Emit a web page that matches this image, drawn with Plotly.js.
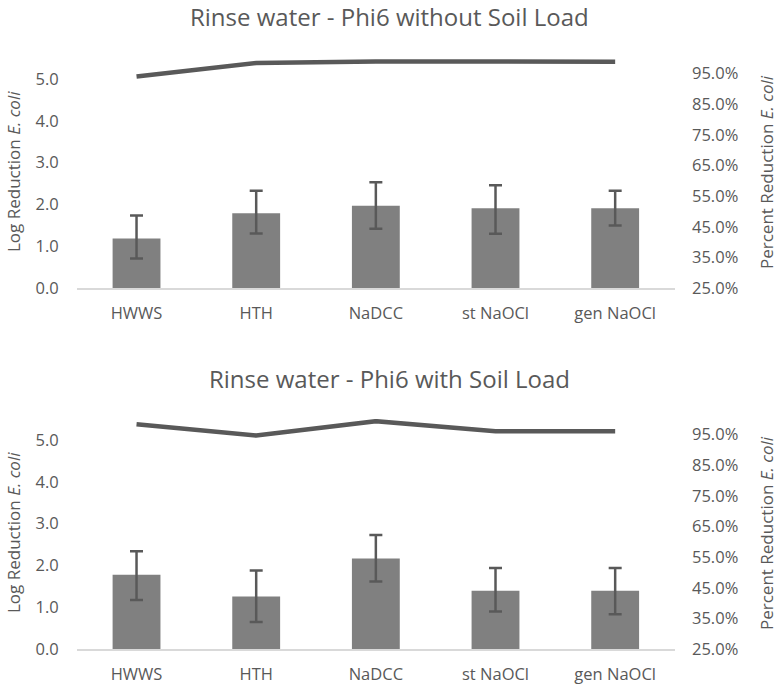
<!DOCTYPE html>
<html>
<head>
<meta charset="utf-8">
<script src="https://cdn.plot.ly/plotly-3.0.1.min.js"></script>
<style>
html,body{margin:0;padding:0;background:#fff;}
#chart{width:778px;height:685px;}
</style>
</head>
<body>
<div id="chart"></div>
<script>
// Categories
const categories = ["HWWS", "HTH", "NaDCC", "st NaOCl", "gen NaOCl"];

// Top chart: without soil load
const logRedNoSoil = [1.19, 1.79, 1.97, 1.91, 1.91];
const errPlusNoSoil = [0.55, 0.54, 0.56, 0.55, 0.42];
const errMinusNoSoil = [0.48, 0.48, 0.55, 0.61, 0.41];
const pctRedNoSoil = [0.940, 0.984, 0.989, 0.988, 0.988];

// Bottom chart: with soil load
const logRedSoil = [1.78, 1.26, 2.17, 1.40, 1.40];
const errPlusSoil = [0.56, 0.62, 0.56, 0.54, 0.54];
const errMinusSoil = [0.60, 0.61, 0.55, 0.50, 0.56];
const pctRedSoil = [0.983, 0.946, 0.993, 0.960, 0.960];

// Axis ticks
const leftTicks = [0, 1, 2, 3, 4, 5];
const rightTicks = [0.25, 0.35, 0.45, 0.55, 0.65, 0.75, 0.85, 0.95];

const titles = ["Rinse water - Phi6 without Soil Load", "Rinse water - Phi6 with Soil Load"];

const FONT = "Open Sans, Noto Sans, sans-serif";
const TXT = "#595959";
const BAR = "#808080";
const LINE = "#595959";
const TICK = 16.5;

function barTrace(y, ep, em, xa, ya) {
  return {
    type: "bar", x: categories, y: y, xaxis: xa, yaxis: ya,
    marker: {color: BAR}, width: 0.4,
    error_y: {type: "data", symmetric: false, array: ep, arrayminus: em,
              color: "#595959", thickness: 2.5, width: 6.5},
    hoverinfo: "skip", showlegend: false
  };
}
function lineTrace(y, xa, ya) {
  return {
    type: "scatter", mode: "lines", x: categories, y: y, xaxis: xa, yaxis: ya,
    line: {color: LINE, width: 4.5, shape: "linear"},
    hoverinfo: "skip", showlegend: false, cliponaxis: false
  };
}

const data = [
  barTrace(logRedNoSoil, errPlusNoSoil, errMinusNoSoil, "x", "y"),
  lineTrace(pctRedNoSoil, "x", "y2"),
  barTrace(logRedSoil, errPlusSoil, errMinusSoil, "x2", "y3"),
  lineTrace(pctRedSoil, "x2", "y4")
];

const W = 778, H = 685;
const xDom = [76.7 / W, 675 / W];
const topDom = [1 - 288.3 / H, 1 - 58 / H];
const botDom = [1 - 649.3 / H, 1 - 419 / H];

function xAxis(anchor) {
  return {
    domain: xDom, anchor: anchor, type: "category",
    showline: true, linecolor: "#d9d9d9", linewidth: 2,
    ticks: "", showgrid: false, zeroline: false,
    tickfont: {family: FONT, size: TICK, color: TXT},
    ticklabelstandoff: 9
  };
}
function leftAxis(dom, anchor) {
  return {
    domain: dom, anchor: anchor, range: [0, 5.5],
    tickvals: leftTicks, ticktext: leftTicks.map(v => v.toFixed(1)),
    showgrid: false, zeroline: false, showline: false, ticks: "",
    tickfont: {family: FONT, size: TICK, color: TXT},
    ticklabelstandoff: 17
  };
}
function rightAxis(overlay, anchor) {
  return {
    overlaying: overlay, anchor: anchor, side: "right", range: [0.25, 1.0],
    tickvals: rightTicks, ticktext: rightTicks.map(v => (v * 100).toFixed(1) + "%"),
    showgrid: false, zeroline: false, showline: false, ticks: "",
    tickfont: {family: FONT, size: TICK, color: TXT},
    ticklabelstandoff: 16
  };
}

const ann = [];
function addTitles(i, yTop, yMid) {
  ann.push({text: titles[i], xref: "paper", yref: "paper", x: 0.5, y: 1 - yTop / H,
            xanchor: "center", yanchor: "middle", showarrow: false,
            font: {family: FONT, size: 24, color: TXT}});
  ann.push({text: "Log Reduction <i>E. coli</i>", xref: "paper", yref: "paper",
            x: 13 / W, y: 1 - yMid / H, xanchor: "center", yanchor: "middle",
            textangle: -90, showarrow: false, font: {family: FONT, size: 17, color: TXT}});
  ann.push({text: "Percent Reduction <i>E. coli</i>", xref: "paper", yref: "paper",
            x: 766 / W, y: 1 - yMid / H, xanchor: "center", yanchor: "middle",
            textangle: -90, showarrow: false, font: {family: FONT, size: 17, color: TXT}});
}
addTitles(0, 16, 172);
addTitles(1, 379, 533);

const layout = {
  width: W, height: H,
  margin: {l: 0, r: 0, t: 0, b: 0},
  paper_bgcolor: "#ffffff", plot_bgcolor: "rgba(0,0,0,0)",
  showlegend: false, bargap: 0.6,
  font: {family: FONT, color: TXT},
  xaxis: xAxis("y"),
  yaxis: leftAxis(topDom, "x"),
  yaxis2: rightAxis("y", "x"),
  xaxis2: xAxis("y3"),
  yaxis3: leftAxis(botDom, "x2"),
  yaxis4: rightAxis("y3", "x2"),
  annotations: ann
};

Plotly.newPlot("chart", data, layout, {staticPlot: true, displayModeBar: false});
</script>
</body>
</html>
